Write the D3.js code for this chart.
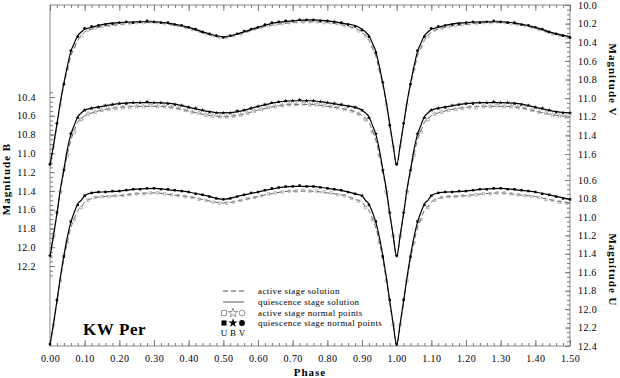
<!DOCTYPE html>
<html><head><meta charset="utf-8">
<script src="https://cdn.jsdelivr.net/npm/d3@7"></script>
<style>
body{margin:0;background:#fff}
svg{display:block}
text{font-family:"Liberation Serif","Times New Roman",serif;fill:#000}
</style>
</head><body>
<svg id="c" width="620" height="378"></svg>
<script>
// ---------- DATA ----------
const solPhase = [0,0.01,0.02,0.03,0.04,0.05,0.06,0.07,0.08,0.09,0.10,0.12,0.15,0.20,0.25,0.30,0.35,0.40,0.45,0.50,0.55,0.60,0.65,0.70,0.75,0.80,0.85,0.88,0.90,0.91,0.92,0.93,0.94,0.95,0.96,0.97,0.98,0.99,1.00];

const vQuiet  = [11.72,11.51,11.28,11.04,10.84,10.66,10.50,10.41,10.33,10.29,10.26,10.24,10.21,10.19,10.18,10.18,10.20,10.24,10.30,10.34,10.30,10.24,10.19,10.17,10.16,10.17,10.20,10.22,10.26,10.29,10.33,10.41,10.50,10.66,10.84,11.04,11.28,11.51,11.72];
const vActive = [11.72,11.52,11.29,11.06,10.86,10.70,10.55,10.46,10.38,10.33,10.29,10.26,10.23,10.21,10.19,10.19,10.21,10.25,10.31,10.35,10.31,10.25,10.21,10.19,10.18,10.19,10.22,10.25,10.29,10.33,10.38,10.46,10.55,10.70,10.86,11.06,11.29,11.52,11.72];
const bQuiet  = [12.10,11.88,11.64,11.38,11.17,10.96,10.80,10.70,10.61,10.57,10.54,10.52,10.50,10.47,10.46,10.46,10.47,10.51,10.55,10.57,10.55,10.50,10.46,10.44,10.44,10.46,10.49,10.51,10.54,10.57,10.61,10.70,10.80,10.96,11.17,11.38,11.64,11.88,12.10];
const bActive = [12.10,11.88,11.65,11.40,11.20,11.01,10.86,10.76,10.67,10.63,10.60,10.57,10.54,10.51,10.50,10.50,10.51,10.55,10.59,10.61,10.59,10.54,10.50,10.48,10.48,10.50,10.53,10.56,10.60,10.63,10.67,10.76,10.86,11.01,11.20,11.40,11.65,11.88,12.10];
const uQuiet  = [12.39,12.16,11.91,11.65,11.42,11.22,11.06,10.95,10.86,10.82,10.77,10.74,10.73,10.72,10.70,10.69,10.71,10.73,10.77,10.81,10.77,10.73,10.69,10.67,10.67,10.69,10.72,10.75,10.77,10.82,10.86,10.95,11.06,11.22,11.42,11.65,11.91,12.16,12.39];
const uActive = [12.39,12.17,11.93,11.68,11.46,11.27,11.12,11.02,10.93,10.89,10.84,10.80,10.78,10.77,10.75,10.74,10.76,10.78,10.82,10.85,10.82,10.78,10.74,10.72,10.72,10.74,10.77,10.81,10.84,10.89,10.93,11.02,11.12,11.27,11.46,11.68,11.93,12.17,12.39];

const ptPhaseQ = [0,0.02,0.04,0.06,0.08,0.10,0.12,0.14,0.16,0.18,0.20,0.22,0.24,0.26,0.28,0.30,0.32,0.34,0.36,0.38,0.40,0.42,0.44,0.46,0.48,0.50,0.52,0.54,0.56,0.58,0.60,0.62,0.64,0.66,0.68,0.70,0.72,0.74,0.76,0.78,0.80,0.82,0.84,0.86,0.88,0.90,0.92,0.94,0.96,0.98,1.00];
const ptPhaseA = [0.01,0.03,0.05,0.07,0.09,0.11,0.13,0.15,0.17,0.19,0.21,0.23,0.25,0.27,0.29,0.31,0.33,0.35,0.37,0.39,0.41,0.43,0.45,0.47,0.49,0.51,0.53,0.55,0.57,0.59,0.61,0.63,0.65,0.67,0.69,0.71,0.73,0.75,0.77,0.79,0.81,0.83,0.85,0.87,0.89,0.91,0.93,0.95,0.97,0.99];

const vPtsQ = [11.71,11.27,10.85,10.49,10.34,10.25,10.23,10.22,10.21,10.20,10.19,10.18,10.19,10.18,10.17,10.18,10.19,10.19,10.21,10.22,10.24,10.26,10.29,10.31,10.33,10.35,10.33,10.31,10.28,10.26,10.24,10.21,10.19,10.18,10.17,10.17,10.16,10.16,10.16,10.17,10.17,10.18,10.19,10.21,10.23,10.27,10.34,10.51,10.83,11.29,11.71];
const vPtsA = [11.52,11.07,10.69,10.45,10.34,10.27,10.25,10.23,10.22,10.21,10.20,10.20,10.19,10.19,10.18,10.19,10.20,10.21,10.22,10.24,10.26,10.28,10.31,10.33,10.35,10.35,10.33,10.31,10.28,10.26,10.24,10.22,10.21,10.20,10.19,10.18,10.18,10.18,10.18,10.19,10.19,10.20,10.22,10.24,10.28,10.33,10.45,10.69,11.07,11.52];
const bPtsQ = [12.09,11.63,11.18,10.79,10.62,10.54,10.52,10.51,10.49,10.48,10.47,10.47,10.46,10.46,10.45,10.46,10.46,10.47,10.48,10.49,10.51,10.52,10.54,10.56,10.57,10.57,10.57,10.55,10.54,10.52,10.50,10.48,10.46,10.45,10.44,10.44,10.43,10.44,10.44,10.45,10.46,10.47,10.48,10.50,10.51,10.54,10.62,10.79,11.18,11.63,12.09];
const bPtsA = [11.88,11.41,11.02,10.77,10.64,10.58,10.56,10.54,10.53,10.52,10.51,10.51,10.50,10.50,10.49,10.50,10.50,10.51,10.52,10.54,10.56,10.57,10.59,10.60,10.61,10.61,10.60,10.59,10.57,10.55,10.53,10.51,10.50,10.49,10.48,10.48,10.47,10.48,10.48,10.49,10.50,10.51,10.53,10.55,10.58,10.64,10.77,11.02,11.41,11.88];
const uPtsQ = [12.38,11.90,11.43,11.05,10.87,10.77,10.74,10.73,10.73,10.72,10.72,10.71,10.70,10.70,10.69,10.69,10.70,10.70,10.71,10.72,10.73,10.75,10.76,10.78,10.80,10.81,10.80,10.78,10.76,10.74,10.73,10.71,10.69,10.68,10.67,10.67,10.66,10.67,10.67,10.68,10.69,10.70,10.71,10.73,10.75,10.77,10.87,11.05,11.43,11.90,12.38];
const uPtsA = [12.17,11.69,11.28,11.03,10.90,10.82,10.79,10.78,10.78,10.77,10.77,10.76,10.75,10.75,10.74,10.74,10.75,10.76,10.77,10.78,10.79,10.81,10.82,10.84,10.85,10.85,10.84,10.82,10.80,10.79,10.77,10.75,10.74,10.73,10.72,10.72,10.71,10.72,10.72,10.73,10.74,10.76,10.77,10.80,10.83,10.90,11.03,11.28,11.69,12.17];

const xTicks = [0,0.1,0.2,0.3,0.4,0.5,0.6,0.7,0.8,0.9,1.0,1.1,1.2,1.3,1.4,1.5];
const bTicks = [10.4,10.6,10.8,11.0,11.2,11.4,11.6,11.8,12.0,12.2];
const vTicks = [10.0,10.2,10.4,10.6,10.8,11.0,11.2,11.4,11.6];
const uTicks = [10.6,10.8,11.0,11.2,11.4,11.6,11.8,12.0,12.2,12.4];

const legendLabels = ["active stage solution","quiescence stage solution","active stage normal points","quiescence stage normal points"];
const bandLetters = ["U","B","V"];
const starName = "KW Per";

// ---------- LAYOUT ----------
const L=50, R=570, T=5, Bt=346;
const svg = d3.select("#c");
const x  = d3.scaleLinear().domain([0,1.5]).range([L,R]);
const yV = d3.scaleLinear().domain([10.0,11.6]).range([5,154]);
const yB = d3.scaleLinear().domain([10.4,12.2]).range([97,266]);
const yU = d3.scaleLinear().domain([10.6,12.4]).range([180,346]);

// replicate phase 0..0.5 to 1..1.5
function extend(ph, vals){
  const out = ph.map((p,i)=>({p:p, m:vals[i]}));
  ph.forEach((p,i)=>{ if(p>0 && p<=0.5+1e-9) out.push({p:p+1, m:vals[i]}); });
  return out.sort((a,b)=>a.p-b.p);
}

// frame
svg.append("rect").attr("x",L).attr("y",T).attr("width",R-L).attr("height",Bt-T)
  .attr("fill","none").attr("stroke","#8a8a8a").attr("stroke-width",1);

function styleAxis(g){
  g.select(".domain").remove();
  g.selectAll(".tick line").attr("stroke","#777");
  g.selectAll("text").attr("fill","#111").style("font-size","10px").style("letter-spacing","0.4px")
   .style("font-family","'Liberation Serif',serif");
}
const minorX = d3.range(0,1.5001,0.02);
// bottom
svg.append("g").attr("transform",`translate(0,${Bt})`)
  .call(d3.axisBottom(x).tickValues(minorX).tickSize(-3).tickFormat("")).call(styleAxis);
svg.append("g").attr("transform",`translate(0,${Bt})`)
  .call(d3.axisBottom(x).tickValues(xTicks).tickSize(-6).tickPadding(9).tickFormat(d3.format(".2f"))).call(styleAxis);
// top
svg.append("g").attr("transform",`translate(0,${T})`)
  .call(d3.axisTop(x).tickValues(minorX).tickSize(-3).tickFormat("")).call(styleAxis);
svg.append("g").attr("transform",`translate(0,${T})`)
  .call(d3.axisTop(x).tickValues(xTicks).tickSize(-6).tickFormat("")).call(styleAxis);
// left B
svg.append("g").attr("transform",`translate(${L},0)`)
  .call(d3.axisLeft(yB).tickValues(d3.range(10.35,12.301,0.05)).tickSize(-3).tickFormat("")).call(styleAxis);
svg.append("g").attr("transform",`translate(${L},0)`)
  .call(d3.axisLeft(yB).tickValues(bTicks).tickSize(-5).tickPadding(14).tickFormat(d3.format(".1f"))).call(styleAxis);
// right V
svg.append("g").attr("transform",`translate(${R},0)`)
  .call(d3.axisRight(yV).tickValues(d3.range(10.0,11.751,0.05)).tickSize(-3).tickFormat("")).call(styleAxis);
svg.append("g").attr("transform",`translate(${R},0)`)
  .call(d3.axisRight(yV).tickValues(vTicks).tickSize(-5).tickPadding(8).tickFormat(d3.format(".1f"))).call(styleAxis);
// right U
svg.append("g").attr("transform",`translate(${R},0)`)
  .call(d3.axisRight(yU).tickValues(d3.range(10.55,12.401,0.05)).tickSize(-3).tickFormat("")).call(styleAxis);
svg.append("g").attr("transform",`translate(${R},0)`)
  .call(d3.axisRight(yU).tickValues(uTicks).tickSize(-5).tickPadding(8).tickFormat(d3.format(".1f"))).call(styleAxis);

// axis titles
svg.append("text").attr("transform",`translate(10,179) rotate(-90)`).attr("text-anchor","middle")
  .style("font-size","11px").style("font-weight","bold").style("letter-spacing","1px").text("Magnitude B");
svg.append("text").attr("transform",`translate(609,80) rotate(90)`).attr("text-anchor","middle")
  .style("font-size","11px").style("font-weight","bold").style("letter-spacing","1px").text("Magnitude V");
svg.append("text").attr("transform",`translate(609,270) rotate(90)`).attr("text-anchor","middle")
  .style("font-size","11px").style("font-weight","bold").style("letter-spacing","1px").text("Magnitude U");
svg.append("text").attr("x",310).attr("y",376).attr("text-anchor","middle")
  .style("font-size","11px").style("font-weight","bold").style("letter-spacing","1px").text("Phase");

// curves
const bands = [
  {y:yV, q:vQuiet, a:vActive, pq:vPtsQ, pa:vPtsA, sym:d3.symbolCircle},
  {y:yB, q:bQuiet, a:bActive, pq:bPtsQ, pa:bPtsA, sym:d3.symbolStar},
  {y:yU, q:uQuiet, a:uActive, pq:uPtsQ, pa:uPtsA, sym:d3.symbolSquare}
];
const gC = svg.append("g");
bands.forEach(b=>{
  const line = d3.line().x(d=>x(d.p)).y(d=>b.y(d.m)).curve(d3.curveMonotoneX);
  gC.append("path").datum(extend(solPhase,b.a)).attr("d",line)
    .attr("fill","none").attr("stroke","#666").attr("stroke-width",1).attr("stroke-dasharray","5,3");
});
bands.forEach(b=>{
  gC.selectAll(null).data(extend(ptPhaseA,b.pa)).join("path")
    .attr("transform",d=>`translate(${x(d.p)},${b.y(d.m)})`)
    .attr("d",d3.symbol().type(b.sym).size(6))
    .attr("fill","none").attr("stroke","#9a9a9a").attr("stroke-width",0.7);
});
bands.forEach(b=>{
  const line = d3.line().x(d=>x(d.p)).y(d=>b.y(d.m)).curve(d3.curveMonotoneX);
  gC.append("path").datum(extend(solPhase,b.q)).attr("d",line)
    .attr("fill","none").attr("stroke","#000").attr("stroke-width",1.2);
});
bands.forEach(b=>{
  gC.selectAll(null).data(extend(ptPhaseQ,b.pq)).join("path")
    .attr("transform",d=>`translate(${x(d.p)},${b.y(d.m)})`)
    .attr("d",d3.symbol().type(b.sym).size(6))
    .attr("fill","#000");
});

// legend
const lg = svg.append("g");
const rows = [291,302,313,323];
lg.append("line").attr("x1",223).attr("x2",244).attr("y1",rows[0]).attr("y2",rows[0])
  .attr("stroke","#555").attr("stroke-dasharray","5,3");
lg.append("line").attr("x1",223).attr("x2",244).attr("y1",rows[1]).attr("y2",rows[1])
  .attr("stroke","#555").attr("stroke-width",1);
const legSyms = [d3.symbolSquare,d3.symbolStar,d3.symbolCircle];
const legX = [224,233,242];
legSyms.forEach((s,i)=>{
  lg.append("path").attr("transform",`translate(${legX[i]},${rows[2]})`)
    .attr("d",d3.symbol().type(s).size(26)).attr("fill","none").attr("stroke","#777").attr("stroke-width",0.8);
  lg.append("path").attr("transform",`translate(${legX[i]},${rows[3]})`)
    .attr("d",d3.symbol().type(s).size(26)).attr("fill","#000");
  lg.append("text").attr("x",legX[i]).attr("y",rows[3]+13).attr("text-anchor","middle")
    .attr("fill","#000").style("font-size","9px").text(bandLetters[i]);
});
legendLabels.forEach((t,i)=>{
  lg.append("text").attr("x",258).attr("y",rows[i]+3).attr("fill","#000").style("font-size","9px")
    .style("letter-spacing","0.4px").text(t);
});

svg.append("text").attr("x",83).attr("y",335).attr("fill","#000").style("font-size","17px").style("font-weight","bold")
  .style("letter-spacing","0.6px").text(starName);
</script>
</body></html>
